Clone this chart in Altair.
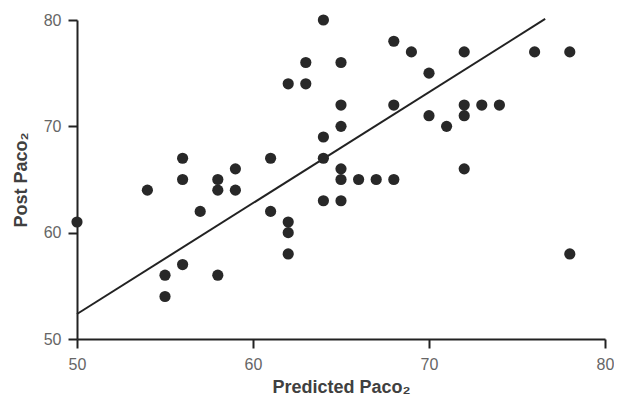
import altair as alt
import pandas as pd

predicted = [50, 54, 55, 55, 56, 56, 56, 57, 58, 58, 58, 59, 59, 61, 61,
             62, 62, 62, 62, 63, 63, 64, 64, 64, 64, 65, 65, 65, 65, 65, 65,
             66, 67, 68, 68, 68, 69, 70, 70, 71, 72, 72, 72, 72, 73, 74, 76, 78, 78]
post = [61, 64, 56, 54, 67, 65, 57, 62, 65, 64, 56, 66, 64, 67, 62,
        74, 61, 60, 58, 76, 74, 80, 69, 67, 63, 76, 72, 70, 66, 65, 63,
        65, 65, 65, 78, 72, 77, 75, 71, 70, 77, 72, 71, 66, 72, 72, 77, 77, 58]

line_x = [50, 76.6]
line_y = [52.35, 80.1]

ticks = [50, 60, 70, 80]

pts = pd.DataFrame({"x": predicted, "y": post})
ln = pd.DataFrame({"x": line_x, "y": line_y})

xscale = alt.Scale(domain=[50, 80], nice=False, zero=False)
yscale = alt.Scale(domain=[50, 80], nice=False, zero=False)

xaxis = alt.Axis(values=ticks, title="Predicted Paco₂", grid=False,
                 tickSize=9, labelPadding=8, titlePadding=6, labelFlush=False)
yaxis = alt.Axis(values=ticks, title="Post Paco₂", grid=False,
                 tickSize=9, labelPadding=7, titlePadding=13, labelFlush=False)

points = alt.Chart(pts).mark_circle(size=125, color="#282828", opacity=1).encode(
    x=alt.X("x:Q", scale=xscale, axis=xaxis),
    y=alt.Y("y:Q", scale=yscale, axis=yaxis),
)

line = alt.Chart(ln).mark_line(color="#222222", strokeWidth=2).encode(
    x=alt.X("x:Q", scale=xscale),
    y=alt.Y("y:Q", scale=yscale),
)

chart = alt.layer(line, points).properties(
    width=528,
    height=319,
    autosize=alt.AutoSizeParams(type="none"),
    padding={"left": 69, "top": 12, "right": 9, "bottom": 60},
).configure_view(stroke=None).configure_axis(
    domainColor="#222222",
    domainWidth=2,
    tickColor="#222222",
    tickWidth=2,
    labelFont="Liberation Sans",
    labelFontSize=16,
    labelColor="#666666",
    titleFont="Liberation Sans",
    titleFontSize=18,
    titleFontWeight="bold",
    titleColor="#404040",
)

chart.save("out.html", embed_options={"renderer": "svg", "actions": False})
